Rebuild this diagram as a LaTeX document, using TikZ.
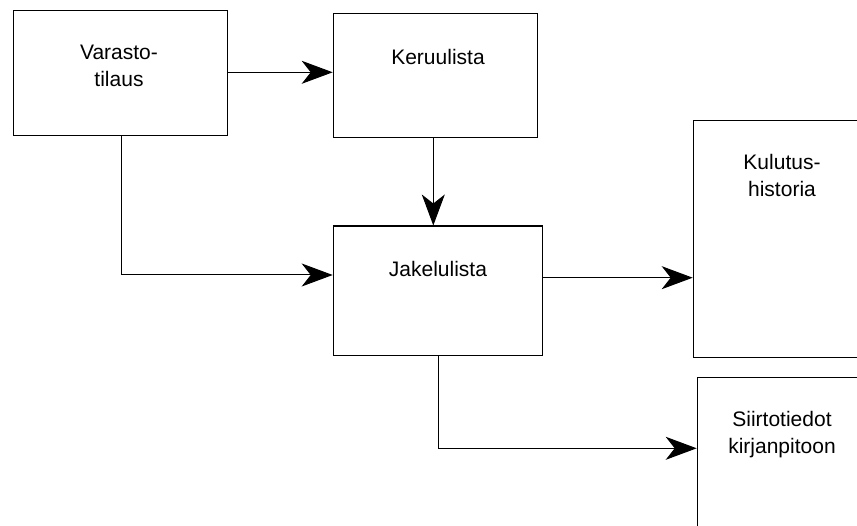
\documentclass[tikz,border=0pt]{standalone}
\usepackage{fontspec}
\setmainfont{Liberation Sans}
\usetikzlibrary{arrows.meta}
\begin{document}
\begin{tikzpicture}[x=1pt,y=-1pt,
  box/.style={draw=black,line width=1.3pt,inner sep=0pt},
  lbl/.style={font=\fontsize{21}{27}\selectfont,align=center,inner sep=0pt},
  conn/.style={draw=black,line width=1pt,-{Stealth[length=31pt,width=23pt,inset=9pt]}},
  plain/.style={draw=black,line width=1pt}]
\useasboundingbox (0,0) rectangle (857,526);
\clip (0,0) rectangle (857,526);
% boxes
\node[box,minimum width=214pt,minimum height=125pt,anchor=north west] (vt) at (12.7,10) {};
\node[box,minimum width=204pt,minimum height=124pt,anchor=north west] (ke) at (332.7,12.7) {};
\node[box,minimum width=209pt,minimum height=129.5pt,anchor=north west] (ja) at (332.7,225.5) {};
\node[box,minimum width=200pt,minimum height=237pt,anchor=north west] (ku) at (692.7,120) {};
\node[box,minimum width=200pt,minimum height=200pt,anchor=north west] (si) at (696.7,376.7) {};
% labels
\node[lbl] (tvt) at (119,65.5) {Varasto-\\tilaus};
\node[lbl] (tke) at (438,57) {Keruulista};
\node[lbl] (tja) at (438,269) {Jakelulista};
\node[lbl] (tku) at (782,175) {Kulutus-\\historia};
\node[lbl] (tsi) at (782,434.5) {Siirtotiedot\\kirjanpitoon};
% connectors
\coordinate (c1) at (121.7,275);
\coordinate (c2) at (438.3,448.3);
\draw[conn] (vt.east |- 0,72.3) -- (ke.west |- 0,72.3);
\draw[conn] (ke.south -| 433.3,0) -- (ja.north -| 433.3,0);
\draw[conn] (ja.east |- 0,277.7) -- (ku.west |- 0,277.7);
\draw[plain] (vt.south -| c1) -- (c1);
\draw[conn] (c1) -- (ja.west |- c1);
\draw[plain] (ja.south -| c2) -- (c2);
\draw[conn] (c2) -- (si.west |- c2);
\end{tikzpicture}
\end{document}
